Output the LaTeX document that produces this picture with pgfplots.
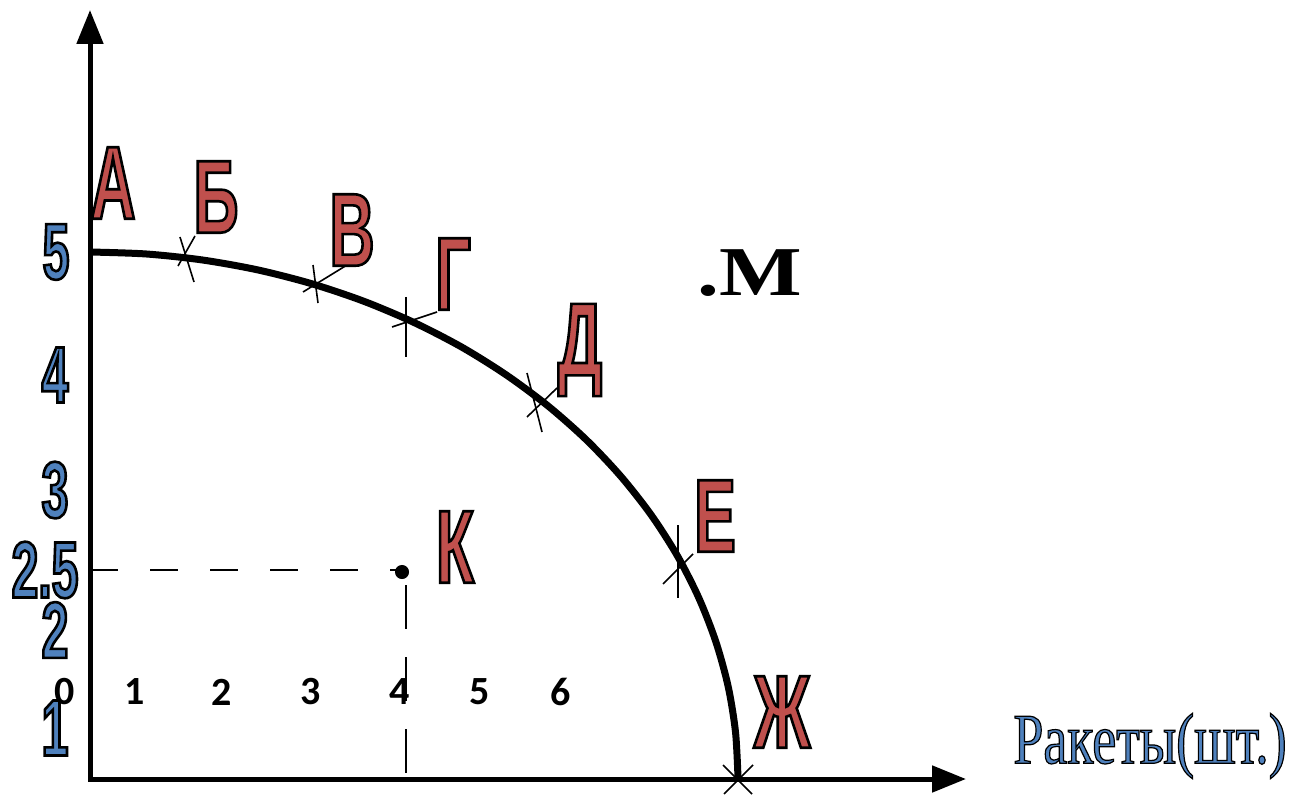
\documentclass[border=0pt]{standalone}
\usepackage{pgfplots}
\pgfplotsset{compat=1.18}
\usetikzlibrary{arrows.meta}
\usepackage{fontspec}
\setmainfont{Liberation Serif}
\newfontfamily\condsans[FakeStretch=0.6]{Liberation Sans}
\newfontfamily\condserif[FakeStretch=0.75]{Liberation Serif}
\newfontfamily\wideserif[FakeStretch=1.25]{Liberation Serif}
\newfontfamily\carlito{Carlito}
\definecolor{pRed}{HTML}{C0504D}
\definecolor{pBlue}{HTML}{4F81BD}
% filled text with a dark outline (text render mode 2)
\newcommand{\outl}[3]{{\color{#1}\special{pdf:literal direct 0 0 0 RG #2 w 2 Tr}#3\special{pdf:literal direct 0 Tr}}}
% red point letters
\newcommand{\pt}[1]{\outl{pRed}{1.3}{\condsans\bfseries\fontsize{52}{52}\selectfont #1}}
% blue axis numbers
\newcommand{\bn}[1]{\outl{pBlue}{1.3}{\condsans\bfseries\fontsize{40}{40}\selectfont #1}}
\begin{document}
\begin{tikzpicture}
\begin{axis}[
    x=0.5pt, y=0.5pt,
    xmin=0, xmax=1293, ymin=0, ymax=796,
    y dir=reverse,
    axis lines=none,
    clip=false,
    scale only axis,
]
\coordinate (bl) at (axis cs:0,796);
\coordinate (tr) at (axis cs:1293,0);

% axes
\addplot[line width=2.5pt, -{Triangle[length=17pt,width=13pt]}] coordinates {(90,779) (90,10)};
\addplot[line width=2.5pt, -{Triangle[length=17pt,width=13pt]}] coordinates {(88,779) (966,779)};

% production possibilities frontier
\addplot[line width=3.5pt, smooth] coordinates {
    (90,252) (146.5,254) (202.5,260) (257.7,269.9) (311.6,283.7)
    (363.9,301.3) (414,322.5) (461.7,347.1) (506.5,375.1) (548.2,406.1)
    (586.4,439.9) (620.8,476.3) (651.2,515) (677.3,555.7) (698.9,598.1)
    (715.9,641.9) (728.2,686.7) (735.5,732.1) (738,778)
};

% crosses and leaders at the points
\addplot[line width=0.8pt] coordinates {(180,237) (194,282)};
\addplot[line width=0.8pt] coordinates {(178,266) (195,236)};
\addplot[line width=0.8pt] coordinates {(313,265) (318,303)};
\addplot[line width=0.8pt] coordinates {(303,292) (347,265)};
\addplot[line width=0.8pt] coordinates {(406,297) (406,357)};
\addplot[line width=0.8pt] coordinates {(392,327) (437,312)};
\addplot[line width=0.8pt] coordinates {(527,373) (542,432)};
\addplot[line width=0.8pt] coordinates {(527,417) (557,388)};
\addplot[line width=0.8pt] coordinates {(678,525) (678,598)};
\addplot[line width=0.8pt] coordinates {(663,584) (693,554)};
\addplot[line width=0.8pt] coordinates {(723,765) (752,794)};
\addplot[line width=0.8pt] coordinates {(753,765) (724,794)};

% point K and its guide lines
\addplot[line width=0.8pt, dash pattern=on 14pt off 16pt] coordinates {(90,570) (400,570)};
\addplot[line width=0.8pt, dash pattern=on 22pt off 14pt] coordinates {(406,585) (406,779)};
\addplot[only marks, mark=*, mark size=3.3pt] coordinates {(402,572)};

% letters
\node at (axis cs:113,183) {\pt{А}};
\node at (axis cs:216,197) {\pt{Б}};
\node at (axis cs:352,230) {\pt{В}};
\node at (axis cs:453,274) {\pt{Г}};
\node at (axis cs:580,350) {\pt{Д}};
\node at (axis cs:715,516) {\pt{Е}};
\node at (axis cs:455,547) {\pt{К}};
\node at (axis cs:782,712) {\pt{Ж}};

% point M
\node[anchor=base west, inner sep=0pt] at (axis cs:697,296) {\wideserif\bfseries\fontsize{35}{35}\selectfont .М};

% y numbers
\node at (axis cs:56,252) {\bn{5}};
\node at (axis cs:55,375) {\bn{4}};
\node at (axis cs:55,490) {\bn{3}};
\node at (axis cs:45,570) {\bn{2.5}};
\node at (axis cs:55,630) {\bn{2}};
\node at (axis cs:55,728) {\bn{1}};

% x numbers
\node at (axis cs:65,692) {\carlito\bfseries\fontsize{20}{20}\selectfont 0};
\node at (axis cs:135,692) {\carlito\bfseries\fontsize{20}{20}\selectfont 1};
\node at (axis cs:222,692) {\carlito\bfseries\fontsize{20}{20}\selectfont 2};
\node at (axis cs:311,692) {\carlito\bfseries\fontsize{20}{20}\selectfont 3};
\node at (axis cs:400,692) {\carlito\bfseries\fontsize{20}{20}\selectfont 4};
\node at (axis cs:480,692) {\carlito\bfseries\fontsize{20}{20}\selectfont 5};
\node at (axis cs:561,692) {\carlito\bfseries\fontsize{20}{20}\selectfont 6};

% axis title
\node at (axis cs:1150,746) {\outl{pBlue}{0.6}{\condserif\fontsize{36}{36}\selectfont Ракеты(шт.)}};
\end{axis}
\pgfresetboundingbox
\path (bl) rectangle (tr);
\end{tikzpicture}
\end{document}
